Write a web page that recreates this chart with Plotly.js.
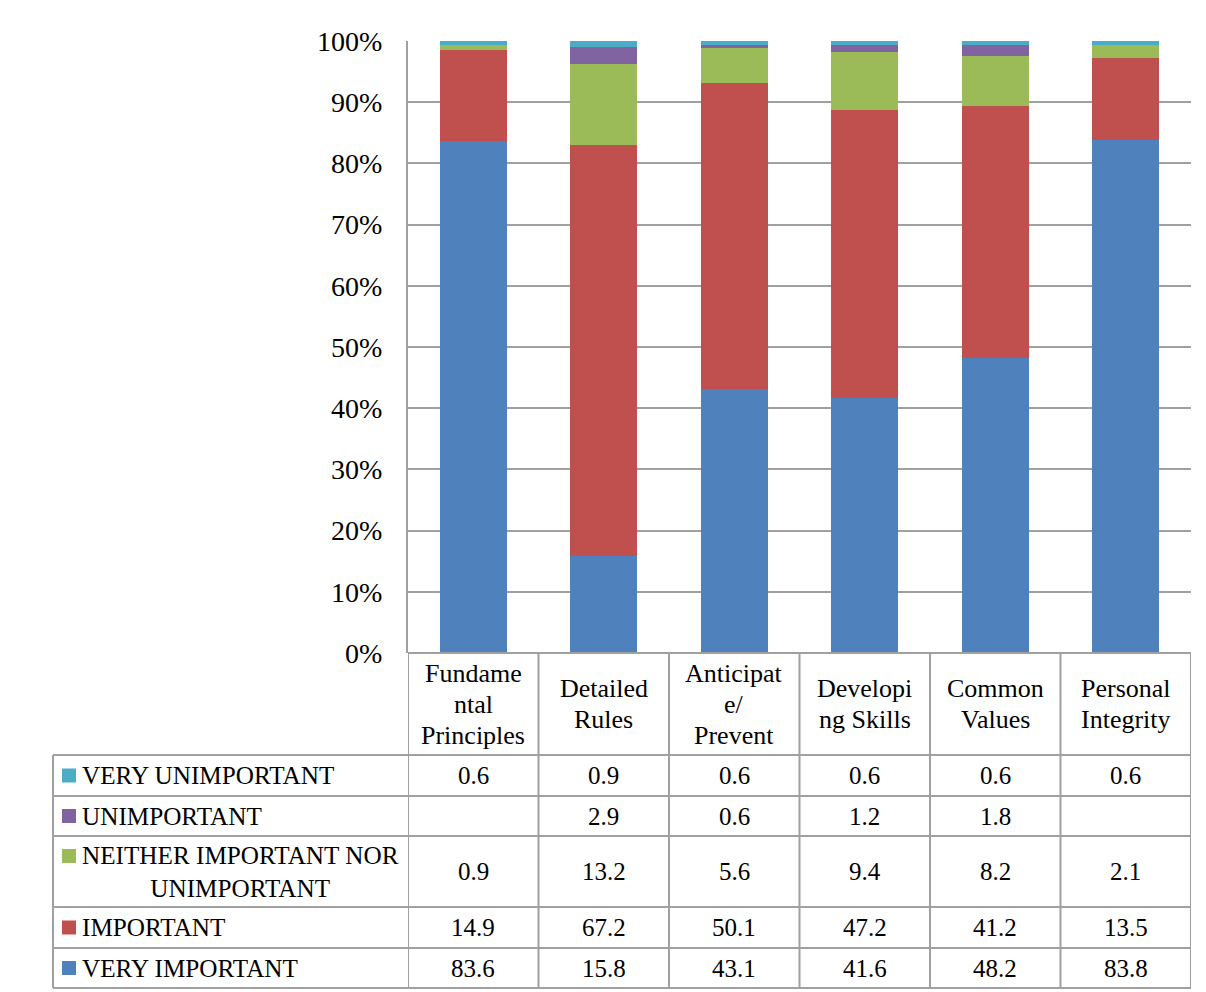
<!DOCTYPE html>
<html><head><meta charset="utf-8">
<script src="https://cdn.plot.ly/plotly-3.0.1.min.js"></script>
<style>body{margin:0;background:#fff}#chart{width:1206px;height:992px}</style>
</head><body><div id="chart"></div>
<script>
// ---- data ----
const categories = ['Fundamental Principles','Detailed Rules','Anticipate/ Prevent','Developing Skills','Common Values','Personal Integrity'];
const categoryLines = [['Fundame','ntal','Principles'],['Detailed','Rules'],['Anticipat','e/','Prevent'],['Developi','ng Skills'],['Common','Values'],['Personal','Integrity']];
const seriesNames = ['VERY UNIMPORTANT','UNIMPORTANT','NEITHER IMPORTANT NOR<br>UNIMPORTANT','IMPORTANT','VERY IMPORTANT'];
const veryUnimportant = [0.6,0.9,0.6,0.6,0.6,0.6];
const unimportant = [null,2.9,0.6,1.2,1.8,null];
const neither = [0.9,13.2,5.6,9.4,8.2,2.1];
const important = [14.9,67.2,50.1,47.2,41.2,13.5];
const veryImportant = [83.6,15.8,43.1,41.6,48.2,83.8];
const colors = ['#4BACC6','#8064A2','#9BBB59','#C0504D','#4F81BD'];

// ---- layout geometry (pixels) ----
const W=1206,H=992,L=408,R=1191,T=41,B=653;
const rowEdges=[755,796,836,907,948,988];
const tableLeft=53;
const fam='"Liberation Serif", "DejaVu Serif", serif';
const py=p=>(B-p)/(B-T);
const px=p=>(p-L)/(R-L);
const gridC='#a0a0a0';

const seriesData=[veryUnimportant,unimportant,neither,important,veryImportant];
const idx=categories.map((c,i)=>i);
// stacking bottom-to-top: very important first
const traces=[];
for(let s=4;s>=0;s--){
  traces.push({type:'bar',x:idx,y:seriesData[s],name:seriesNames[s],marker:{color:colors[s],line:{width:0}},showlegend:false,hoverinfo:'skip'});
}

const shapes=[],annotations=[];
const line=(x0,y0,x1,y1,xref)=>shapes.push({type:'line',xref:xref||'paper',yref:'paper',x0,y0,x1,y1,line:{color:gridC,width:2},layer:'above'});
// vertical column lines in table
for(let i=0;i<=categories.length;i++){
  line(i-0.5,py(B),i-0.5,py(rowEdges[rowEdges.length-1]),'x');
}
line(px(tableLeft),py(rowEdges[0]),px(tableLeft),py(rowEdges[rowEdges.length-1]));
line(0,py(B),1,py(B));
rowEdges.forEach(r=>line(px(tableLeft),py(r),1,py(r)));

// category header
const headTop=B, headBot=rowEdges[0], lh=31;
categoryLines.forEach((lines,i)=>{
  const mid=(headTop+headBot)/2;
  lines.forEach((t,k)=>{
    const yc=mid+(k-(lines.length-1)/2)*lh;
    annotations.push({xref:'x',yref:'paper',x:i,y:py(yc),text:t,showarrow:false,xanchor:'center',yanchor:'middle',font:{family:fam,size:26,color:'#000'}});
  });
});
// rows
seriesNames.forEach((nm,s)=>{
  const y0=rowEdges[s],y1=rowEdges[s+1],mid=(y0+y1)/2;
  const multi=nm.indexOf('<br>')>=0;
  const firstLineY= multi? mid-15.5 : mid;
  shapes.push({type:'rect',xref:'paper',yref:'paper',x0:px(62),x1:px(76),y0:py(firstLineY-7),y1:py(firstLineY+7),fillcolor:colors[s],line:{width:0}});
  annotations.push({xref:'paper',yref:'paper',x:px(80),y:py(mid),text:nm,showarrow:false,xanchor:'left',yanchor:'middle',align:'center',font:{family:fam,size:25.2,color:'#000'}});
  seriesData[s].forEach((v,i)=>{
    if(v===null) return;
    annotations.push({xref:'x',yref:'paper',x:i,y:py(mid),text:v.toFixed(1),showarrow:false,xanchor:'center',yanchor:'middle',font:{family:fam,size:25,color:'#000'}});
  });
});

const layout={
  width:W,height:H,margin:{l:L,r:W-R,t:T,b:H-B},
  paper_bgcolor:'#fff',plot_bgcolor:'#fff',
  barmode:'stack',bargap:0.485,
  xaxis:{type:'linear',range:[-0.5,5.5],showticklabels:false,showgrid:false,zeroline:false,ticks:''},
  yaxis:{range:[0,100],dtick:10,ticksuffix:'%',showgrid:true,gridcolor:gridC,gridwidth:2,zeroline:false,showline:true,linecolor:gridC,linewidth:2,ticks:'',ticklabelstandoff:18,tickfont:{family:fam,size:28,color:'#000'}},
  shapes,annotations,showlegend:false
};
Plotly.newPlot('chart',traces,layout,{displayModeBar:false,staticPlot:true});
</script></body></html>
